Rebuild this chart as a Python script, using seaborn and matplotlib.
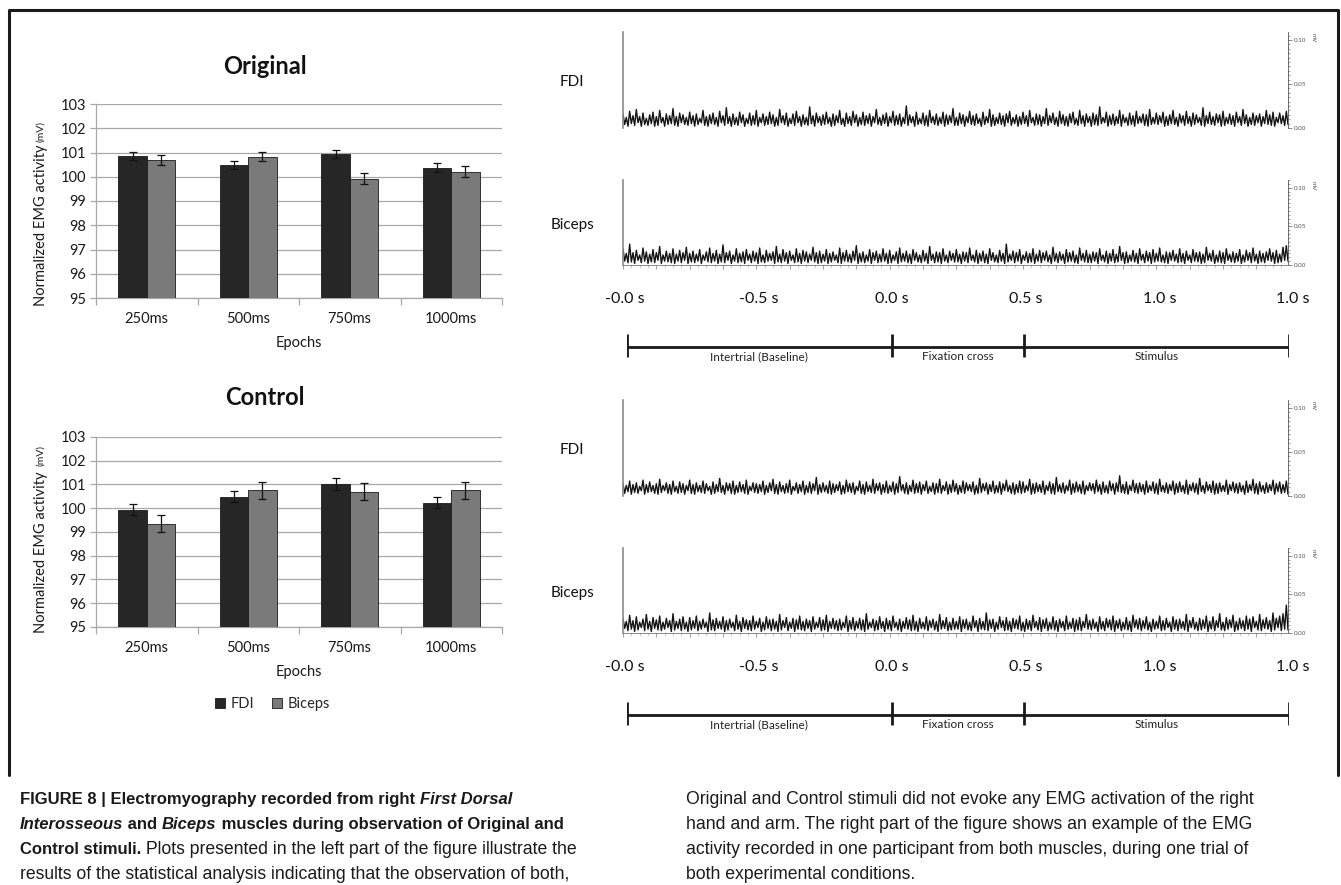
import numpy as np
import pandas as pd
import matplotlib
matplotlib.use("Agg")
import matplotlib.pyplot as plt
import seaborn as sns
from matplotlib import font_manager
from matplotlib.ticker import MultipleLocator, FixedLocator

sns.set_theme(style="white")
names = {f.name for f in font_manager.fontManager.ttflist}
CHART_FONT = "Lato" if "Lato" in names else "DejaVu Sans"
CAP_FONT = "Liberation Sans Narrow" if "Liberation Sans Narrow" in names else "Liberation Sans"
plt.rcParams["font.family"] = [CHART_FONT, "DejaVu Sans"]

# ---------------- data ----------------
epochs = ["250ms", "500ms", "750ms", "1000ms"]
muscles = ["FDI", "Biceps"]

orig_fdi = [100.87, 100.47, 100.95, 100.37]
orig_fdi_err = [0.17, 0.17, 0.17, 0.18]
orig_bic = [100.68, 100.83, 99.92, 100.21]
orig_bic_err = [0.21, 0.20, 0.22, 0.22]

ctrl_fdi = [99.94, 100.48, 101.01, 100.24]
ctrl_fdi_err = [0.24, 0.23, 0.26, 0.24]
ctrl_bic = [99.34, 100.75, 100.69, 100.75]
ctrl_bic_err = [0.36, 0.37, 0.36, 0.37]

y_ticks = [95, 96, 97, 98, 99, 100, 101, 102, 103]

# EMG traces (peak / trough per time bin, in microvolts)
t1_hi = [16,12,19,14,21,13,17,11,15,18,13,20,12,16,14,22,13,17,15,12,
         18,14,16,11,20,13,15,17,12,19,14,23,13,16,12,18,15,11,17,14,
         20,12,16,13,18,15,12,21,14,17,11,16,19,13,15,12,24,14,17,13,
         15,18,12,16,14,20,11,17,13,19,15,12,18,14,16,13,21,12,15,17,
         13,19,14,16,12,25,15,13,18,11,17,14,20,13,16,12,18,15,14,22,
         12,17,15,13,19,14,16,11,18,13,21,15,12,17,14,16,19,12,15,13,
         18,14,20,12,16,15,13,22,14,17,12,19,15,13,16,18,11,20,14,16,
         13,17,15,24,12,18,14,16,13,20,15,12,17,14,19,13,16,15,21,12,
         17,14,18,13,15,20,12,16,14,19,13,17,15,12,23,14,18,13,16,15,
         19,12,16,14,18,13,21,15,12,17,14,16,13,20,15,18,12,17,14,19]
t1_lo = [4,2,5,3,6,2,4,3,5,2,3,6,2,4,5,3,2,6,4,3,
         5,2,4,6,3,2,5,4,2,6,3,5,2,4,3,6,2,5,3,4,
         2,6,3,4,5,2,3,6,4,2,5,3,6,2,4,3,5,2,6,3,
         4,5,2,3,6,4,2,5,3,6,2,4,3,5,2,6,4,3,5,2,
         6,3,4,2,5,3,6,2,4,5,3,2,6,4,3,5,2,4,6,3,
         3,5,2,6,4,3,5,2,4,6,2,3,5,4,2,6,3,5,2,4,
         5,2,6,3,4,2,5,3,6,4,2,5,3,2,6,4,3,5,2,6,
         2,4,3,5,6,2,4,3,5,2,6,3,4,2,5,6,3,2,4,5,
         4,6,2,3,5,4,2,6,3,5,2,4,6,3,2,5,4,3,6,2,
         3,5,4,2,6,3,5,2,4,3,6,2,5,4,3,2,6,5,3,4]
t2_hi = [21,15,27,16,19,13,22,17,14,20,16,24,13,18,15,21,14,19,16,23,
         15,18,14,20,13,17,22,15,19,14,26,16,18,13,21,15,17,20,14,18,
         16,22,13,19,15,17,24,14,20,16,18,13,21,15,19,17,14,23,16,18,
         14,20,15,17,13,22,16,19,14,18,25,15,17,13,20,16,18,14,21,15,
         19,13,17,22,15,18,14,20,16,13,19,15,24,14,17,16,21,13,18,15,
         20,14,17,16,22,13,19,15,18,14,21,16,13,19,15,27,14,18,16,20,
         13,17,15,21,14,19,16,18,13,23,15,17,14,20,16,18,13,22,15,19,
         14,17,16,21,13,18,15,20,14,24,16,17,13,19,15,21,14,18,16,20,
         15,22,13,17,16,19,14,21,15,18,13,20,16,17,14,23,15,19,13,18,
         16,21,14,17,15,20,13,19,16,22,14,18,15,17,21,16,19,14,23,25]
t2_lo = [5,3,4,2,6,3,5,2,4,3,6,2,5,4,3,2,5,3,6,2,
         4,3,5,2,6,4,3,5,2,4,3,6,2,5,3,4,2,6,3,5,
         2,4,3,5,6,2,4,3,5,2,6,3,4,2,5,3,6,4,2,3,
         5,2,4,6,3,2,5,4,3,6,2,4,3,5,2,6,3,4,5,2,
         3,6,2,4,5,3,2,6,4,3,5,2,6,3,4,2,5,3,6,4,
         4,2,5,3,6,4,2,5,3,2,6,4,3,5,2,4,6,3,5,2,
         6,3,4,2,5,3,6,4,2,5,3,6,2,4,5,3,2,6,4,3,
         3,5,2,6,4,2,5,3,4,6,2,3,5,4,2,6,3,5,2,4,
         5,4,3,2,6,5,3,4,2,6,3,5,4,2,3,6,5,2,4,3,
         2,6,4,3,5,2,4,6,3,5,2,4,3,6,5,2,3,4,6,5]
t3_hi = [14,12,17,13,15,11,18,13,16,12,14,19,12,15,13,17,11,16,14,12,
         18,13,15,12,17,14,11,16,13,20,12,15,14,17,12,16,13,18,11,15,
         14,13,17,12,15,19,13,16,12,14,18,11,15,13,17,12,16,14,21,13,
         15,12,17,14,13,16,12,18,14,15,11,17,13,16,12,19,14,15,13,17,
         12,16,14,22,13,15,12,18,14,16,13,17,11,15,14,19,12,16,13,18,
         14,12,17,15,13,16,12,20,14,15,13,17,12,16,14,18,12,15,13,17,
         16,12,19,14,15,13,17,12,16,14,21,13,15,12,18,14,16,13,17,12,
         15,14,18,13,16,12,17,14,15,23,13,16,12,18,14,15,13,17,12,16,
         14,19,12,15,13,17,14,16,12,18,13,15,14,20,12,16,13,17,14,15,
         12,18,13,16,14,15,12,17,13,19,14,16,12,15,13,18,14,16,13,17]
t3_lo = [3,5,2,4,3,6,2,4,5,3,2,4,6,3,2,5,3,4,2,6,
         3,2,5,4,3,6,2,3,5,4,2,6,3,2,4,5,3,2,6,4,
         3,5,2,4,6,3,2,5,3,4,2,6,3,5,2,4,3,6,2,4,
         5,3,2,4,6,2,3,5,4,2,6,3,2,5,4,3,6,2,4,3,
         5,2,4,6,3,2,5,3,4,2,6,3,5,2,4,3,6,2,4,5,
         2,4,3,6,5,2,3,4,6,2,5,3,4,2,6,5,3,2,4,3,
         4,6,2,3,5,4,2,6,3,2,5,4,3,6,2,4,5,3,2,6,
         6,3,5,2,4,3,6,2,5,4,3,2,6,4,3,5,2,4,6,3,
         2,5,4,3,6,2,4,5,3,2,6,4,2,5,3,6,4,2,3,5,
         5,2,6,4,3,5,2,4,6,3,2,5,3,4,6,2,5,3,4,2]
t4_hi = [19,15,23,16,21,14,18,24,15,20,17,22,14,19,16,25,15,18,21,14,
         20,16,22,15,18,14,26,17,19,15,21,16,18,14,23,15,20,17,16,22,
         15,19,14,21,17,18,15,24,16,20,14,19,17,22,15,18,16,21,14,20,
         17,23,15,19,16,18,14,22,16,20,15,19,17,25,14,18,16,21,15,19,
         16,22,14,18,15,20,17,23,15,19,14,21,16,18,15,24,16,20,14,19,
         15,21,17,18,14,22,16,19,15,26,17,18,14,21,16,20,15,19,17,22,
         14,18,16,23,15,20,17,19,14,21,16,18,15,22,14,19,17,20,15,24,
         16,18,14,21,15,19,17,22,16,18,14,20,15,23,17,19,16,21,14,18,
         15,22,16,19,14,21,17,18,15,24,16,20,14,19,17,22,15,21,16,25,
         14,20,17,23,15,19,16,22,18,21,15,24,17,20,16,26,19,22,25,36]
t4_lo = [6,3,5,2,4,7,3,5,2,6,4,3,5,7,2,4,6,3,5,2,
         4,6,3,5,7,2,4,3,6,5,2,4,7,3,5,2,6,4,3,5,
         7,2,4,6,3,5,2,4,7,3,6,2,5,4,3,6,2,5,7,3,
         4,2,6,5,3,4,7,2,5,3,6,4,2,5,7,3,4,6,2,5,
         3,7,4,2,6,5,3,4,2,6,5,3,7,4,2,5,6,3,4,5,
         5,2,6,4,3,7,2,5,4,3,6,2,5,7,3,4,2,6,5,3,
         2,5,3,7,4,2,6,3,5,4,2,7,3,5,6,2,4,3,7,5,
         4,6,2,5,3,7,4,2,6,3,5,4,2,7,5,3,6,4,2,5,
         6,3,4,7,2,5,3,6,4,2,7,5,3,4,6,2,5,3,7,4,
         3,5,7,2,4,6,3,5,2,7,4,3,6,5,2,4,7,3,5,4]

time_labels = ["-0.0 s", "-0.5 s", "0.0 s", "0.5 s", "1.0 s", "1.0 s"]
phase_names = ["Intertrial (Baseline)", "Fixation cross", "Stimulus"]
phase_bounds = [0.0, 0.4, 0.6, 1.0]
emg_ticks = [0.00, 0.05, 0.10]

# ---------------- figure ----------------
W, H = 1341, 885
fig = plt.figure(figsize=(W / 100, H / 100), dpi=100)
fig.patch.set_facecolor("white")


def px_axes(x0, y0, x1, y1):
    return fig.add_axes([x0 / W, 1 - y1 / H, (x1 - x0) / W, (y1 - y0) / H])


def fx(x):
    return x / W


def fy(y):
    return 1 - y / H


# frame
frame_ax = fig.add_axes([0, 0, 1, 1], zorder=-5)
frame_ax.set_xlim(0, W)
frame_ax.set_ylim(H, 0)
frame_ax.axis("off")
frame_ax.plot([9, 9, 1338, 1338], [775, 10, 10, 775], color="#1a1a1a", lw=2.2)

FDI_C = "#262626"
BIC_C = "#7a7a7a"
GRID_C = "#a8a8a8"


def bar_panel(box, title, fdi, fdi_e, bic, bic_e, title_y, ylab_c, mv_c, legend):
    ax = px_axes(*box)
    df = pd.DataFrame({
        "Epochs": epochs * 2,
        "value": fdi + bic,
        "muscle": [muscles[0]] * 4 + [muscles[1]] * 4,
    })
    sns.barplot(data=df, x="Epochs", y="value", hue="muscle",
                palette=[FDI_C, BIC_C], width=0.56, gap=0,
                edgecolor="#1a1a1a", linewidth=0.6, errorbar=None,
                ax=ax, legend=legend, zorder=3)
    for cont, errs in zip(ax.containers, [fdi_e, bic_e]):
        xs = [p.get_x() + p.get_width() / 2 for p in cont.patches]
        ys = [p.get_height() for p in cont.patches]
        ax.errorbar(xs, ys, yerr=errs, fmt="none", ecolor="#111111",
                    elinewidth=0.9, capsize=3, capthick=0.9, zorder=4)
    ax.set_ylim(95, 103)
    ax.set_xlim(-0.5, 3.5)
    ax.set_yticks(y_ticks)
    ax.yaxis.grid(True, color=GRID_C, lw=0.9, zorder=0)
    ax.set_axisbelow(True)
    for s in ["top", "right"]:
        ax.spines[s].set_visible(False)
    for s in ["left", "bottom"]:
        ax.spines[s].set_color(GRID_C)
        ax.spines[s].set_linewidth(0.9)
    ax.tick_params(axis="y", length=4, width=0.9, color=GRID_C, labelsize=10.5,
                   labelcolor="#1a1a1a", pad=3, left=True)
    ax.xaxis.set_minor_locator(FixedLocator([0.5, 1.5, 2.5, 3.5, -0.5]))
    ax.tick_params(axis="x", which="major", length=0, labelsize=10.5,
                   labelcolor="#1a1a1a", pad=10)
    ax.tick_params(axis="x", which="minor", length=5, width=0.9, color=GRID_C,
                   bottom=True)
    ax.set_xlabel("Epochs", fontsize=10.5, color="#1a1a1a", labelpad=7)
    ax.set_ylabel("")
    ax.set_facecolor("none")
    fig.text(fx(265), fy(title_y), title, fontsize=17, fontweight="bold",
             ha="center", va="center", color="#111111")
    fig.text(fx(41), fy(ylab_c), "Normalized EMG activity", rotation=90,
             fontsize=10.5, ha="center", va="center", color="#1a1a1a")
    fig.text(fx(41), fy(mv_c), "(mV)", rotation=90, fontsize=7.5,
             ha="center", va="center", color="#1a1a1a")
    return ax


bar_panel((96, 104, 502, 298), "Original", orig_fdi, orig_fdi_err,
          orig_bic, orig_bic_err, 67, 225, 132, False)
ax_c = bar_panel((96, 437, 502, 627), "Control", ctrl_fdi, ctrl_fdi_err,
                 ctrl_bic, ctrl_bic_err, 398, 552, 455, True)
leg = ax_c.legend(loc="upper center", bbox_to_anchor=(0.435, -0.30), ncol=2,
                  frameon=False, fontsize=10.5, handlelength=0.7,
                  handleheight=0.7, handletextpad=0.4, columnspacing=1.2)


def emg_panel(box, hi, lo, ymax, label, show_bottom):
    ax = px_axes(*box)
    n = min(len(hi), len(lo))
    xs = np.arange(2 * n) / 2.0
    ys = np.empty(2 * n)
    ys[0::2] = np.array(hi[:n]) / 1000.0
    ys[1::2] = np.array(lo[:n]) / 1000.0
    sns.lineplot(x=xs, y=ys, ax=ax, color="#141414", lw=1.0,
                 estimator=None, sort=False)
    ax.set_xlim(0, xs[-1])
    ax.set_ylim(0, ymax)
    ax.set_facecolor("none")
    ax.spines["top"].set_visible(False)
    ax.spines["left"].set_color("#8a8a8a")
    ax.spines["left"].set_linewidth(1.2)
    ax.spines["right"].set_color("#555555")
    ax.spines["right"].set_linewidth(0.6)
    ax.spines["bottom"].set_visible(show_bottom)
    ax.spines["bottom"].set_color("#777777")
    ax.spines["bottom"].set_linewidth(0.6)
    ax.yaxis.tick_right()
    ax.set_yticks(emg_ticks)
    ax.set_yticklabels(["0.00", "0.05", "0.10"])
    ax.yaxis.set_minor_locator(MultipleLocator(0.005))
    ax.tick_params(axis="y", which="major", right=True, left=False, length=3,
                   width=0.5, color="#555555", labelsize=4.5, pad=1.5,
                   labelcolor="#555555")
    ax.tick_params(axis="y", which="minor", right=True, left=False, length=1.5,
                   width=0.4, color="#555555")
    if show_bottom:
        ax.set_xticks(np.arange(0, xs[-1] + 0.01, 10))
        ax.xaxis.set_minor_locator(MultipleLocator(2.5))
        ax.tick_params(axis="x", which="major", bottom=True, length=3,
                       width=0.5, color="#777777", labelbottom=False)
        ax.tick_params(axis="x", which="minor", bottom=True, length=1.5,
                       width=0.4, color="#777777")
    else:
        ax.set_xticks([])
    ax.set_xlabel("")
    ax.set_ylabel("")
    x1 = box[2]
    fig.text(fx(x1 + 25), fy(box[1] + 6), "mV", rotation=270, fontsize=4.5,
             ha="center", va="center", color="#555555")
    fig.text(fx(572), fy((box[1] + box[3]) / 2 + 2), label, fontsize=11,
             ha="center", va="center", color="#111111")
    return ax


def timeline(time_y, line_y):
    tax = px_axes(625, time_y - 12, 1293, time_y + 12)
    tax.set_xlim(0, len(time_labels) - 1)
    tax.set_ylim(0, 1)
    tax.axis("off")
    for i, lab in enumerate(time_labels):
        tax.text(i, 0.5, lab, ha="center", va="center", fontsize=11.5,
                 color="#111111")
    lax = px_axes(627, line_y - 14, 1289, line_y + 18)
    lax.set_xlim(0, 1)
    lax.set_ylim(32, 0)
    lax.axis("off")
    lax.plot([phase_bounds[0], phase_bounds[-1]], [14, 14], color="#1a1a1a",
             lw=2, solid_capstyle="butt")
    lax.vlines(phase_bounds, 1, 24, color="#1a1a1a", lw=2)
    for k, name in enumerate(phase_names):
        mid = (phase_bounds[k] + phase_bounds[k + 1]) / 2
        lax.text(mid, 24, name, ha="center", va="center", fontsize=8.5,
                 color="#222222")


emg_panel((623, 32, 1288, 128), t1_hi, t1_lo, 0.109, "FDI", False)
emg_panel((623, 180, 1288, 265), t2_hi, t2_lo, 0.110, "Biceps", True)
timeline(299, 347)
emg_panel((623, 400, 1288, 496), t3_hi, t3_lo, 0.109, "FDI", False)
emg_panel((623, 548, 1288, 633), t4_hi, t4_lo, 0.110, "Biceps", True)
timeline(667, 715)

# ---------------- caption ----------------
cap_ax = fig.add_axes([0, 0, 1, 1], zorder=-4)
cap_ax.set_xlim(0, W)
cap_ax.set_ylim(H, 0)
cap_ax.axis("off")
fig.canvas.draw()
renderer = fig.canvas.get_renderer()
SIZE_BOLD = 12.0
SIZE_NORM = 12.7
col1 = [
    [("FIGURE 8 | Electromyography recorded from right ", "bold", "normal"),
     ("First Dorsal", "bold", "italic")],
    [("Interosseous", "bold", "italic"), (" and ", "bold", "normal"),
     ("Biceps", "bold", "italic"),
     (" muscles during observation of Original and", "bold", "normal")],
    [("Control stimuli.", "bold", "normal"),
     (" Plots presented in the left part of the figure illustrate the", "normal", "normal")],
    [("results of the statistical analysis indicating that the observation of both,", "normal", "normal")],
]
col2 = [
    [("Original and Control stimuli did not evoke any EMG activation of the right", "normal", "normal")],
    [("hand and arm. The right part of the figure shows an example of the EMG", "normal", "normal")],
    [("activity recorded in one participant from both muscles, during one trial of", "normal", "normal")],
    [("both experimental conditions.", "normal", "normal")],
]
line_base = [804, 829, 854, 879]
inv = cap_ax.transData.inverted()
for x_start, col in [(20, col1), (686, col2)]:
    for ly, segs in zip(line_base, col):
        x = x_start
        for txt, wt, st in segs:
            size = SIZE_BOLD if wt == "bold" else SIZE_NORM
            t = cap_ax.text(x, ly, txt, fontsize=size, fontweight=wt,
                            fontstyle=st, family=[CAP_FONT, "DejaVu Sans"],
                            ha="left", va="baseline", color="#1a1a1a")
            bb = t.get_window_extent(renderer=renderer)
            x = inv.transform((bb.x1, bb.y0))[0]

fig.savefig("out.png", dpi=100, facecolor="white")
